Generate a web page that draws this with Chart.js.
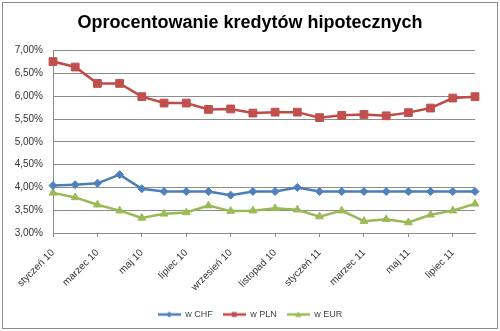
<!DOCTYPE html>
<html>
<head>
<meta charset="utf-8">
<script src="https://cdn.jsdelivr.net/npm/chart.js@4/dist/chart.umd.min.js"></script>
<style>
  html, body { margin: 0; padding: 0; background: #fff; }
  #wrap { width: 500px; height: 331px; }
</style>
</head>
<body>
<div id="wrap"><canvas id="graph" width="500" height="331"></canvas></div>
<script>
// miesiące od stycznia 2010 do sierpnia 2011
const months = ['styczeń 10', 'luty 10', 'marzec 10', 'kwiecień 10', 'maj 10', 'czerwiec 10',
    'lipiec 10', 'sierpień 10', 'wrzesień 10', 'październik 10', 'listopad 10', 'grudzień 10',
    'styczeń 11', 'luty 11', 'marzec 11', 'kwiecień 11', 'maj 11', 'czerwiec 11', 'lipiec 11', 'sierpień 11'];

const rateCHF = [4.04, 4.06, 4.09, 4.28, 3.97, 3.91, 3.91, 3.91, 3.83, 3.91,
    3.91, 4.00, 3.91, 3.91, 3.91, 3.91, 3.91, 3.91, 3.91, 3.91];
const ratePLN = [6.76, 6.64, 6.28, 6.28, 5.99, 5.85, 5.85, 5.71, 5.72, 5.63,
    5.65, 5.65, 5.53, 5.58, 5.60, 5.57, 5.64, 5.74, 5.96, 5.99];
const rateEUR = [3.88, 3.78, 3.62, 3.49, 3.33, 3.42, 3.45, 3.60, 3.48, 3.49,
    3.54, 3.51, 3.36, 3.49, 3.26, 3.30, 3.23, 3.40, 3.49, 3.64];

const yMin = 3, yMax = 7, yStep = 0.5;

const fontFamily = '"Liberation Sans", Arial, sans-serif';

// small line + marker icon for the legend
function legendIcon(line, fill, shape) {
    let c = document.createElement('canvas');
    c.width = 23;
    c.height = 8;
    let ctx = c.getContext('2d');
    ctx.strokeStyle = line;
    ctx.lineWidth = 2.5;
    ctx.beginPath();
    ctx.moveTo(0, 4);
    ctx.lineTo(23, 4);
    ctx.stroke();
    ctx.fillStyle = fill;
    ctx.beginPath();
    if (shape == 'rect') {
        ctx.rect(9, 1.5, 5, 5);
    } else if (shape == 'rectRot') {
        ctx.moveTo(11.5, 1);
        ctx.lineTo(14.5, 4);
        ctx.lineTo(11.5, 7);
        ctx.lineTo(8.5, 4);
        ctx.closePath();
    } else {
        ctx.moveTo(11.5, 1);
        ctx.lineTo(14.5, 6.5);
        ctx.lineTo(8.5, 6.5);
        ctx.closePath();
    }
    ctx.fill();
    return c;
}

function series(label, data, line, fill, shape, radius) {
    return {
        label: label,
        data: data,
        borderColor: line,
        backgroundColor: fill,
        borderWidth: 2.5,
        pointStyle: shape,
        pointRadius: radius,
        pointBackgroundColor: fill,
        pointBorderColor: fill,
        pointBorderWidth: 1,
        tension: 0,
        icon: legendIcon(line, fill, shape)
    };
}

// ramka wokół całego wykresu
const frame = {
    id: 'frame',
    afterDraw(chart) {
        let ctx = chart.ctx;
        ctx.save();
        ctx.strokeStyle = '#8c8c8c';
        ctx.lineWidth = 1;
        ctx.strokeRect(2.5, 2.5, 495, 326);
        ctx.restore();
    }
};

let graph = document.getElementById('graph').getContext('2d');

new Chart(graph, {
    type: 'line',
    data: {
        labels: months,
        datasets: [
            series('w CHF', rateCHF, '#4A7EBB', '#4F81BD', 'rectRot', 4),
            series('w PLN', ratePLN, '#BE4B48', '#C0504D', 'rect', 5.5),
            series('w EUR', rateEUR, '#98B954', '#9BBB59', 'triangle', 4.5)
        ]
    },
    options: {
        responsive: false,
        animation: false,
        layout: { padding: { left: 6, right: 6, top: 6, bottom: 2 } },
        plugins: {
            title: {
                display: true,
                text: 'Oprocentowanie kredytów hipotecznych',
                color: '#000',
                font: { family: fontFamily, size: 18, weight: 'bold' },
                padding: { top: 6, bottom: 17 }
            },
            legend: {
                position: 'bottom',
                labels: {
                    usePointStyle: true,
                    pointStyleWidth: 23,
                    padding: 10,
                    color: '#444',
                    font: { family: fontFamily, size: 9 },
                    generateLabels(chart) {
                        return chart.data.datasets.map((ds, i) => ({
                            text: ds.label,
                            pointStyle: ds.icon,
                            fillStyle: ds.backgroundColor,
                            strokeStyle: ds.borderColor,
                            lineWidth: 0,
                            fontColor: '#444',
                            datasetIndex: i
                        }));
                    }
                }
            },
            tooltip: { enabled: false }
        },
        scales: {
            x: {
                offset: false,
                border: { color: '#8c8c8c' },
                grid: {
                    drawOnChartArea: false,
                    drawTicks: true,
                    tickLength: 4,
                    color: '#8c8c8c'
                },
                ticks: {
                    autoSkip: false,
                    minRotation: 45,
                    maxRotation: 45,
                    padding: 10,
                    color: '#333',
                    font: { family: fontFamily, size: 10 },
                    callback: (v, i) => i % 2 == 0 ? months[i] : null
                },
                afterFit(scale) { scale.height = 67; }
            },
            y: {
                min: yMin,
                max: yMax,
                border: { color: '#8c8c8c' },
                grid: { color: '#8c8c8c', drawTicks: false },
                ticks: {
                    stepSize: yStep,
                    padding: 10,
                    color: '#333',
                    font: { family: fontFamily, size: 10 },
                    callback: (v) => v.toFixed(2).replace('.', ',') + '%'
                },
                afterFit(scale) { scale.width = 47; }
            },
            // empty right-hand axis, only keeps space to the right of the plot
            yRight: {
                position: 'right',
                grid: { display: false },
                border: { display: false },
                ticks: { display: false },
                afterFit(scale) { scale.width = 19; }
            }
        }
    },
    plugins: [frame]
});
</script>
</body>
</html>
